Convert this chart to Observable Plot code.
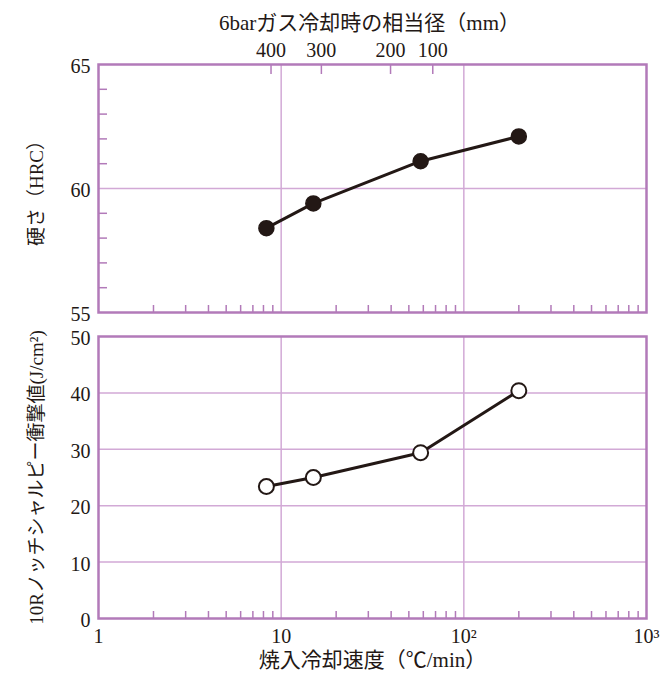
<!DOCTYPE html>
<html>
<head>
<meta charset="utf-8">
<script src="https://cdn.jsdelivr.net/npm/d3@7"></script>
<script src="https://cdn.jsdelivr.net/npm/@observablehq/plot@0.6"></script>
<style>
  html, body { margin: 0; padding: 0; background: #fff; }
  #chart svg { display: block; }
</style>
</head>
<body>
<div id="chart"></div>
<script>
// ---- data ----
const coolingRate = [8.3, 15, 58, 200];          // ℃/min
const hardness = [58.4, 59.4, 61.1, 62.1];       // HRC
const impact = [23.4, 25.0, 29.4, 40.4];         // J/cm²
const topTickRates = [8.8, 16.6, 39.7, 67.6];    // cooling rate positions of equivalent diameters
const topTickLabels = ["400", "300", "200", "100"];
const xMajor = [1, 10, 100, 1000];
const xMajorLabels = ["1", "10", "10²", "10³"];
const xMinor = [2,3,4,5,6,7,8,9,20,30,40,50,60,70,80,90,200,300,400,500,600,700,800,900];
const hardTicks = [55, 60, 65];
const hardMinor = [56, 57, 58, 59, 61, 62, 63, 64];
const impactTicks = [0, 10, 20, 30, 40, 50];
const topTitle = "6barガス冷却時の相当径（mm）";
const hardTitle = "硬さ（HRC）";
const impactTitle = "10Rノッチシャルピー衝撃値(J/cm²)";
const xTitle = "焼入冷却速度（℃/min）";

const topRows = coolingRate.map((r, i) => ({r, v: hardness[i]}));
const botRows = coolingRate.map((r, i) => ({r, v: impact[i]}));
const topTickRows = topTickRates.map((r, i) => ({r, label: topTickLabels[i]}));
const xMajorRows = xMajor.map((r, i) => ({r, label: xMajorLabels[i]}));

const purple = "#b27ab9";
const gridPurple = "#d2a9d6";
const ink = "#231815";
const font = "'Liberation Serif', 'Noto Sans CJK JP', serif";
const fs = 20;

const common = {
  width: 663,
  marginLeft: 98,
  marginRight: 17,
  style: {fontFamily: font, fontSize: fs + "px", color: ink, background: "transparent", overflow: "visible"},
  x: {type: "log", domain: [1, 1000]}
};

const upperChart = Plot.plot({
  ...common,
  height: 325,
  marginTop: 64,
  marginBottom: 13,
  y: {domain: [55, 65]},
  marks: [
    Plot.gridX([10, 100], {stroke: gridPurple, strokeOpacity: 1, strokeWidth: 1.5}),
    Plot.gridY([60], {stroke: gridPurple, strokeOpacity: 1, strokeWidth: 1.5}),
    Plot.axisY({ticks: hardTicks, tickSize: 0, tickPadding: 8, dy: 2, fill: ink, fontSize: fs, label: null}),
    Plot.axisY({ticks: hardMinor, anchor: "right", frameAnchor: "left", tickSize: 8, stroke: purple, strokeWidth: 1.5, fill: "none", label: null}),
    Plot.axisX({ticks: xMinor, anchor: "top", frameAnchor: "bottom", tickSize: 8, stroke: purple, strokeWidth: 1.5, fill: "none", label: null}),
    Plot.axisX({ticks: topTickRates, anchor: "bottom", frameAnchor: "top", tickSize: 10, stroke: purple, strokeWidth: 1.5, fill: "none", label: null}),
    Plot.text(topTickRows, {x: "r", text: "label", frameAnchor: "top", lineAnchor: "middle", dy: -14, fill: ink, fontSize: fs}),
    Plot.text([topTitle], {frameAnchor: "top", lineAnchor: "middle", dy: -41, dx: -3, fill: ink, fontSize: 21}),
    Plot.text([hardTitle], {frameAnchor: "left", textAnchor: "middle", lineAnchor: "middle", dx: -62, rotate: -90, fill: ink, fontSize: 19}),
    Plot.frame({stroke: purple, strokeWidth: 2.5}),
    Plot.line(topRows, {x: "r", y: "v", stroke: ink, strokeWidth: 3}),
    Plot.dot(topRows, {x: "r", y: "v", r: 7.5, fill: ink, stroke: ink, strokeWidth: 1.5})
  ]
});

const lowerChart = Plot.plot({
  ...common,
  height: 348,
  marginTop: 11,
  marginBottom: 55,
  y: {domain: [0, 50]},
  marks: [
    Plot.gridX([10, 100], {stroke: gridPurple, strokeOpacity: 1, strokeWidth: 1.5}),
    Plot.gridY([10, 20, 30, 40], {stroke: gridPurple, strokeOpacity: 1, strokeWidth: 1.5}),
    Plot.axisY({ticks: impactTicks, tickSize: 0, tickPadding: 8, dy: 2, fill: ink, fontSize: fs, label: null}),
    Plot.axisX({ticks: xMinor, anchor: "top", frameAnchor: "bottom", tickSize: 8, stroke: purple, strokeWidth: 1.5, fill: "none", label: null}),
    Plot.text(xMajorRows, {x: "r", text: "label", frameAnchor: "bottom", lineAnchor: "middle", dy: 18, fill: ink, fontSize: fs}),
    Plot.text([xTitle], {frameAnchor: "bottom", lineAnchor: "middle", dy: 42, fill: ink, fontSize: 21}),
    Plot.text([impactTitle], {frameAnchor: "left", textAnchor: "middle", lineAnchor: "middle", dx: -62, rotate: -90, fill: ink, fontSize: 19}),
    Plot.frame({stroke: purple, strokeWidth: 2.5}),
    Plot.line(botRows, {x: "r", y: "v", stroke: ink, strokeWidth: 3}),
    Plot.dot(botRows, {x: "r", y: "v", r: 7.5, fill: "#fff", stroke: ink, strokeWidth: 2})
  ]
});

document.getElementById("chart").append(upperChart, lowerChart);
</script>
</body>
</html>
